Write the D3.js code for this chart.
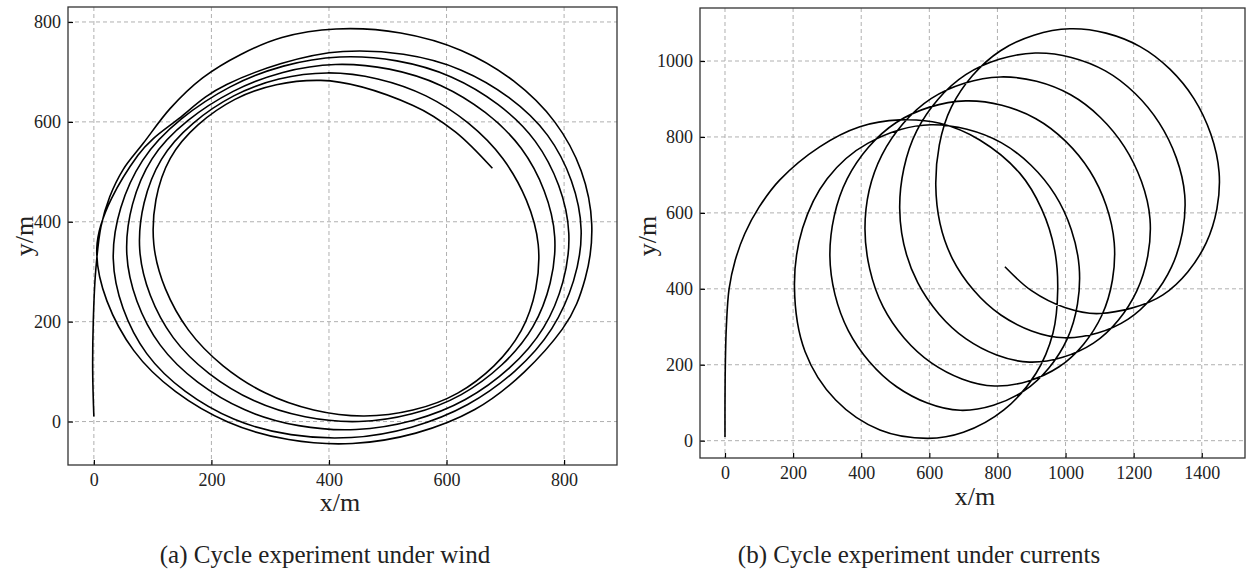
<!DOCTYPE html>
<html>
<head>
<meta charset="utf-8">
<script src="https://cdn.jsdelivr.net/npm/d3@7"></script>
<style>
  body { margin: 0; background: #fff; }
  svg { display: block; }
</style>
</head>
<body>
<svg id="fig" width="1247" height="577"></svg>
<script>
// ---- Panel (a): trajectory under wind, [x, y] in metres ----
const windStart = [[0,10],[-2,100],[-1,200],[3,300],[12,390],[27,450],[50,505],[84,557],[130,627],[185,688],[250,735],[320,769],[412,786]];
const windLoop1 = [[412,786],[522,778],[625,743],[714,682],[784,600],[829,502],[847,395],[836,287],[797,185],[648,24],[440,-44],[228,-1],[68,142],[5,347],[75,533],[145,607],[226,675]];
const windLoop2 = [[226,675],[424,741],[624,704],[772,573],[829,383],[779,186],[636,34],[438,-32],[238,5],[90,136],[33,326],[83,523]];
const windLoop3 = [[232,670],[418,730],[608,690],[751,561],[808,377],[765,188],[632,44],[446,-16],[256,24],[113,153],[56,337],[99,526]];
const windLoop4 = [[237,661],[411,715],[590,673],[727,547],[784,370],[747,190],[625,54],[451,0],[272,42],[135,168],[78,345],[115,525]];
const windLoop5 = [[238,652],[397,698],[565,652],[696,526],[756,354],[727,182],[619,57],[460,11],[292,57],[161,183],[102,355],[130,527]];
const windLoop6 = [[240,645],[386,683],[543,633],[615,580],[678,507]];

// ---- Panel (b): trajectory under currents, [x, y] in metres ----
const curStart = [[0,10],[0,100],[1,200],[4,300],[12,400],[30,475],[58,545],[100,615],[161,687],[278,774],[396,827],[513,845]];
const curLoop1 = [[513,845],[631,836],[748,792],[866,704],[930,610],[968,502],[977,397],[963,283],[913,177],[819,81],[700,22],[595,6],[455,28],[325,107],[235,235],[204,406],[228,560],[300,690],[419,783],[605,832]];
const curLoop2 = [[605,832],[811,785],[969,648],[1040,458],[1005,268],[878,131],[691,80],[504,142],[362,290],[308,487],[359,690],[503,838],[707,895]];
const curLoop3 = [[707,895],[913,848],[1071,711],[1143,521],[1107,331],[980,194],[792,144],[606,205],[464,353],[411,558],[461,753],[605,901],[809,958]];
const curLoop4 = [[809,958],[1015,911],[1173,774],[1248,584],[1209,394],[1082,257],[894,207],[708,268],[566,416],[513,612],[563,816],[707,964],[911,1021]];
const curLoop5 = [[911,1021],[1117,974],[1275,837],[1350,647],[1311,457],[1184,320],[997,271],[810,331],[668,479],[619,672],[665,879],[809,1027],[1013,1085]];
const curLoop6 = [[1013,1085],[1219,1038],[1377,901],[1451,706],[1413,521],[1286,384],[1101,335],[1000,350],[900,395],[822,458]];

// ---- Tick values ----
const windXTicks = [0, 200, 400, 600, 800];
const windYTicks = [0, 200, 400, 600, 800];
const curXTicks = [0, 200, 400, 600, 800, 1000, 1200, 1400];
const curYTicks = [0, 200, 400, 600, 800, 1000];

// ---- Text ----
const xLabel = "x/m";
const yLabel = "y/m";
const captionA = "(a) Cycle experiment under wind";
const captionB = "(b) Cycle experiment under currents";

// join consecutive segments into one track, skipping repeated joint points
function joinSegments(segs) {
  const out = [];
  segs.forEach(s => s.forEach(p => {
    const last = out[out.length - 1];
    if (last && last[0] === p[0] && last[1] === p[1]) return;
    out.push(p);
  }));
  return out;
}

const svg = d3.select("#fig");
const FONT = "'Liberation Serif', 'Times New Roman', serif";

function drawPanel(cfg) {
  const { left, right, top, bottom, xDomain, yDomain, xTicks, yTicks, path } = cfg;
  const x = d3.scaleLinear().domain(xDomain).range([left, right]);
  const y = d3.scaleLinear().domain(yDomain).range([bottom, top]);
  const g = svg.append("g");

  // grid
  const grid = g.append("g")
    .attr("stroke", "#b0b0b0").attr("stroke-width", 1).attr("stroke-dasharray", "4,3");
  xTicks.forEach(v => grid.append("line")
    .attr("x1", x(v)).attr("x2", x(v)).attr("y1", top).attr("y2", bottom));
  yTicks.forEach(v => grid.append("line")
    .attr("y1", y(v)).attr("y2", y(v)).attr("x1", left).attr("x2", right));

  // trajectory
  const line = d3.line()
    .x(d => x(d[0])).y(d => y(d[1]))
    .curve(d3.curveCatmullRom.alpha(0.5));
  g.append("path")
    .datum(path)
    .attr("d", line)
    .attr("fill", "none")
    .attr("stroke", "#000")
    .attr("stroke-width", 1.6)
    .attr("stroke-linejoin", "round");

  // axes with inward ticks
  const ax = g.append("g").attr("transform", `translate(0,${bottom})`)
    .call(d3.axisBottom(x).tickValues(xTicks).tickFormat(d3.format("d"))
      .tickSizeInner(-5).tickSizeOuter(0).tickPadding(8));
  const ay = g.append("g").attr("transform", `translate(${left},0)`)
    .call(d3.axisLeft(y).tickValues(yTicks).tickFormat(d3.format("d"))
      .tickSizeInner(-5).tickSizeOuter(0).tickPadding(7));
  [ax, ay].forEach(a => {
    a.select(".domain").remove();
    a.selectAll(".tick line").attr("stroke", "#000").attr("stroke-width", 1.2);
    a.selectAll(".tick text")
      .attr("font-family", FONT).attr("font-size", 18).attr("fill", "#222");
  });

  // frame
  g.append("rect")
    .attr("x", left).attr("y", top)
    .attr("width", right - left).attr("height", bottom - top)
    .attr("fill", "none").attr("stroke", "#333").attr("stroke-width", 1.3);

  return { x, y };
}

drawPanel({
  left: 68, right: 617, top: 7, bottom: 465,
  xDomain: [-44, 890], yDomain: [-87, 830],
  xTicks: windXTicks, yTicks: windYTicks,
  path: joinSegments([windStart, windLoop1, windLoop2, windLoop3, windLoop4, windLoop5, windLoop6])
});

drawPanel({
  left: 700, right: 1245, top: 8, bottom: 458,
  xDomain: [-73.4, 1527], yDomain: [-45.6, 1139.6],
  xTicks: curXTicks, yTicks: curYTicks,
  path: joinSegments([curStart, curLoop1, curLoop2, curLoop3, curLoop4, curLoop5, curLoop6])
});

// axis titles and captions
function addText(txt, px, py, size, rot) {
  const t = svg.append("text")
    .attr("font-family", FONT).attr("font-size", size).attr("fill", "#222")
    .attr("text-anchor", "middle").attr("dominant-baseline", "central")
    .text(txt);
  if (rot) t.attr("transform", `translate(${px},${py}) rotate(${rot})`);
  else t.attr("x", px).attr("y", py);
  return t;
}
addText(xLabel, 340, 502, 26);
addText(yLabel, 24, 236, 26, -90);
addText(xLabel, 975, 496, 26);
addText(yLabel, 647, 236, 26, -90);

addText(captionA, 325, 554, 25);
addText(captionB, 919, 554, 25);
</script>
</body>
</html>
